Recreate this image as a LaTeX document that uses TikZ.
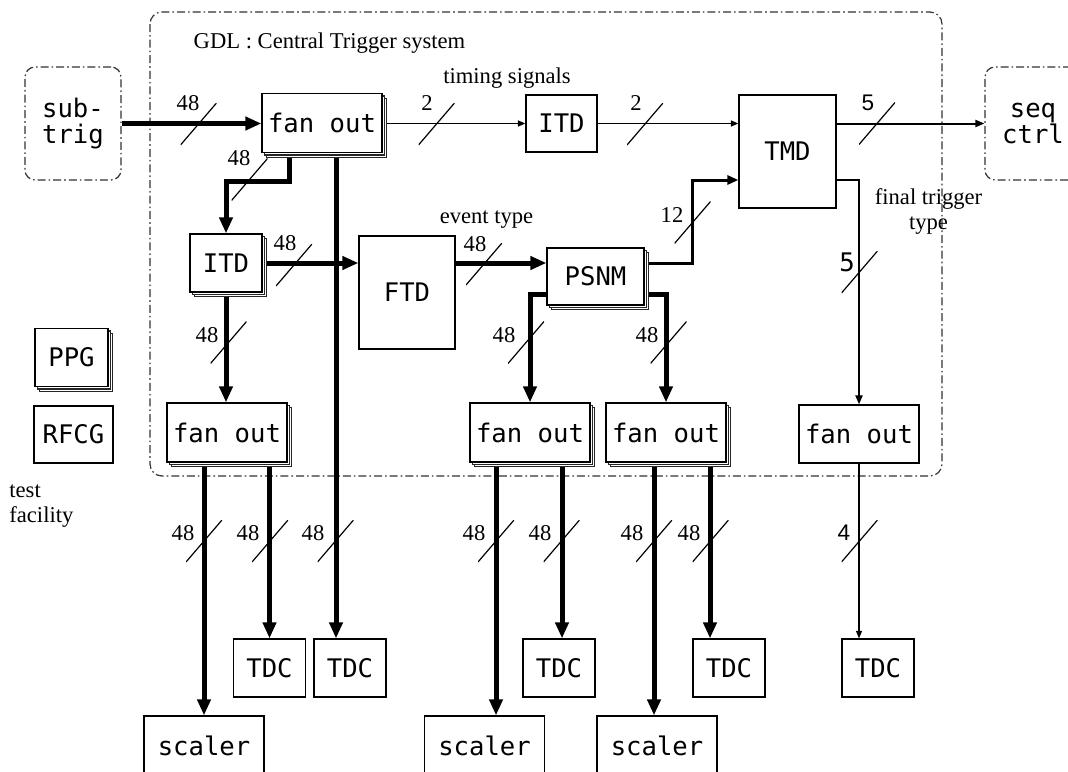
\documentclass[tikz,border=0pt]{standalone}
\usepackage{fontspec}
\setmainfont{Liberation Serif}
\setsansfont{Liberation Sans}
\setmonofont{DejaVu Sans Mono}
\newcommand\boxfont{\ttfamily\fontsize{12.8pt}{13pt}\selectfont}
\newcommand\numfont{\rmfamily\fontsize{11.3pt}{12.5pt}\selectfont}
\newcommand\sansnum{\sffamily\fontsize{11.3pt}{12.5pt}\selectfont}
\usetikzlibrary{arrows.meta, shadows}
\tikzset{
    >=Stealth,
    box/.style={draw, line width=0.6pt, fill=white, inner sep=0pt, font=\boxfont},
    stack/.style={box, double copy shadow={shadow xshift=1.2pt, shadow yshift=-1.2pt, fill=white, draw=black!85, line width=0.6pt}},
    wide/.style={minimum width=60pt, minimum height=29.5pt},
    small/.style={minimum width=36pt, minimum height=29pt},
    tall/.style={minimum width=48pt, minimum height=56.5pt},
    group/.style={draw=black!80, line width=0.6pt, dash pattern=on 4pt off 1.5pt on 0.8pt off 1.5pt},
    ext/.style={group, rounded corners=5pt, tall, inner sep=0pt, align=center, font=\boxfont},
    bus/.style={line width=2.5pt, -{Triangle[length=8pt, width=6.5pt]}},
    mid/.style={line width=1.5pt, -{Triangle[length=5.5pt, width=4.5pt]}},
    med/.style={line width=1pt, -{Triangle[length=4.5pt, width=3.5pt]}},
    sig/.style={line width=0.65pt, -{Triangle[length=3.75pt, width=3pt]}},
    fromstack/.style={shorten <=2.4pt},
    slash/.style={minimum width=18pt, minimum height=21pt, inner sep=0pt,
        path picture={\draw[line width=0.6pt] (path picture bounding box.south west) -- (path picture bounding box.north east);}},
    num/.style={inner sep=0pt, font=\numfont},
    note/.style={inner sep=0pt, font=\numfont}
}
\begin{document}
\begin{tikzpicture}[x=0.5pt, y=-0.5pt]
    \useasboundingbox (0,0) rectangle (1068,771);

    % GDL frame
    \draw[group, rounded corners=6pt] (150,12) rectangle (942,476);
    \node[note] (gdl) at (329.5,43) {GDL : Central Trigger system};

    % Outside blocks
    \node[ext] (subtrig) at (73,123.5) {sub-\\trig};
    \node[ext] (seqctrl) at (1033,123.5) {seq\\ctrl};

    % Blocks
    \node[stack, wide] (fanT) at (322,123) {fan out};
    \node[box, small, minimum width=35.5pt, minimum height=28.5pt] (itdT) at (561.5,123.5) {ITD};
    \node[box, tall, minimum width=48.5pt] (tmd) at (787.5,151.5) {TMD};
    \node[stack, small] (itdL) at (226,263) {ITD};
    \node[box, tall] (ftd) at (407,292.5) {FTD};
    \node[stack, minimum width=48.5pt, minimum height=28.5pt] (psnm) at (595.5,276.5) {PSNM};
    \node[stack, wide] (fanL) at (227,432.5) {fan out};
    \node[stack, wide] (fanM1) at (530,432.5) {fan out};
    \node[stack, wide] (fanM2) at (666,432.5) {fan out};
    \node[box, wide, minimum height=29pt] (fanR) at (859,434) {fan out};

    % Test facility
    \node[stack, small, minimum width=36.5pt] (ppg) at (71.5,357.5) {PPG};
    \node[box, small, minimum width=39.5pt, minimum height=28.5pt] (rfcg) at (73.5,434.5) {RFCG};
    \node[note, align=left, anchor=west] (test) at (9,506) {test\\facility};

    % Outputs
    \node[box, small] (tdc1) at (269.5,668) {TDC};
    \node[box, small] (tdc2) at (350,668) {TDC};
    \node[box, small] (tdc3) at (559,668) {TDC};
    \node[box, small] (tdc4) at (729,668) {TDC};
    \node[box, small] (tdc5) at (878,668) {TDC};
    \node[box, wide, minimum height=30pt] (sc1) at (204,746) {scaler};
    \node[box, wide, minimum height=30pt] (sc2) at (484.5,746) {scaler};
    \node[box, wide, minimum height=30pt] (sc3) at (657,746) {scaler};

    % Entry points off the box centres
    \coordinate (tmdin) at ([yshift=-14.25pt]tmd.west);
    \coordinate (tdc2in) at ([xshift=-7pt]tdc2.north);
    \coordinate (sc2in) at ([xshift=5.75pt]sc2.north);
    \coordinate (tdc3in) at ([xshift=1.5pt]tdc3.north);
    \coordinate (sc3in) at ([xshift=-1.5pt]sc3.north);
    \coordinate (tdc4in) at ([xshift=-9.5pt]tdc4.north);

    % Timing path
    \draw[bus] (subtrig.east) -- (subtrig.east -| fanT.west);
    \draw[sig, fromstack] (itdT.west -| fanT.east) -- (itdT.west);
    \draw[sig] (itdT.east) -- (itdT.east -| tmd.west);
    \draw[med] (itdT.east -| tmd.east) -- (itdT.east -| seqctrl.west);
    \node[note] (timing) at (507,78) {timing signals};

    % Event type path
    \draw[bus, fromstack] ([xshift=-16.5pt]fanT.south) -- ++(0,28) -| (itdL.north);
    \draw[bus, fromstack] (fanT.south -| tdc2in) -- (tdc2in);
    \draw[bus, fromstack] (itdL.east) -- (itdL.east -| ftd.west);
    \draw[bus, fromstack] (itdL.south) -- (itdL.south |- fanL.north);
    \draw[bus] (ftd.east |- itdL.east) -- (itdL.east -| psnm.west);
    \draw[mid, fromstack] (psnm.east |- itdL.east) -| ([xshift=-23pt]tmdin) -- (tmdin);
    \draw[bus] ([yshift=-8.75pt]psnm.west) -| (fanM1.north);
    \draw[bus, fromstack] ([yshift=-8.75pt]psnm.east) -| (fanM2.north);
    \draw[med] (tmdin -| tmd.east) -| (fanR.north);
    \node[note] (evtype) at (486.5,220) {event type};
    \node[note, align=center] (final) at (928.5,211) {final trigger\\type};

    % Fan out to scalers and TDCs
    \draw[bus, fromstack] (fanL.south -| sc1.north) -- (sc1.north);
    \draw[bus, fromstack] (fanL.south -| tdc1.north) -- (tdc1.north);
    \draw[bus, fromstack] (fanM1.south -| sc2in) -- (sc2in);
    \draw[bus, fromstack] (fanM1.south -| tdc3in) -- (tdc3in);
    \draw[bus, fromstack] (fanM2.south -| sc3in) -- (sc3in);
    \draw[bus, fromstack] (fanM2.south -| tdc4in) -- (tdc4in);
    \draw[sig] (fanR.south) -- (fanR.south |- tdc5.north);

    % Bus widths
    \node[slash] (w1) at (198.5,124) {};    \node[num] (n1) at (188,103) {48};
    \node[slash] (w2) at (436.5,124) {};    \node[num] (n2) at (427,103) {2};
    \node[slash] (w3) at (645,124) {};      \node[num] (n3) at (636,103) {2};
    \node[slash] (w4) at (877,123.5) {};    \node[num, font=\sansnum] (n4) at (868,103) {5};
    \node[slash] (w5) at (249.5,179.5) {};  \node[num] (n5) at (239,158) {48};
    \node[slash] (w6) at (294,265) {};      \node[num] (n6) at (285,243) {48};
    \node[slash] (w7) at (228.5,342.5) {};  \node[num] (n7) at (207,335) {48};
    \node[slash] (w8) at (484,264) {};      \node[num] (n8) at (475,244) {48};
    \node[slash] (w9) at (692.5,222.5) {};  \node[num] (n9) at (672,215) {12};
    \node[slash] (w10) at (526,342.5) {};   \node[num] (n10) at (504,335) {48};
    \node[slash] (w11) at (668.5,342.5) {}; \node[num] (n11) at (647,335) {48};
    \node[slash] (w12) at (859.5,272) {};   \node[num, font=\boxfont] (n12) at (847,262) {5};
    \node[slash] (w13) at (204,541) {};     \node[num] (n13) at (183,533) {48};
    \node[slash] (w14) at (270,541) {};     \node[num] (n14) at (248,533) {48};
    \node[slash] (w15) at (335.5,541) {};   \node[num] (n15) at (313,533) {48};
    \node[slash] (w16) at (496,541) {};     \node[num] (n16) at (474,533) {48};
    \node[slash] (w17) at (561.5,541) {};   \node[num] (n17) at (540,533) {48};
    \node[slash] (w18) at (654,541) {};     \node[num] (n18) at (632,533) {48};
    \node[slash] (w19) at (710.5,541) {};   \node[num] (n19) at (689,533) {48};
    \node[slash] (w20) at (859.5,541) {};   \node[num, font=\sansnum] (n20) at (844,533) {4};
\end{tikzpicture}
\end{document}
